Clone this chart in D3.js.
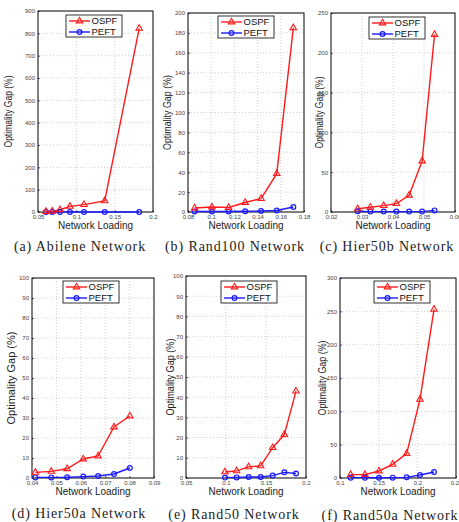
<!DOCTYPE html>
<html>
<head>
<meta charset="utf-8">
<script src="https://cdn.jsdelivr.net/npm/d3@7"></script>
<style>
  html, body { margin: 0; padding: 0; background: #fff; }
  svg { display: block; }
  .tick-lbl { font: 6px "Liberation Sans", Arial, sans-serif; fill: #444; }
  .ax-lbl { font: 10px "Liberation Sans", Arial, sans-serif; fill: #222; }
  .leg { font: 9.5px "Liberation Sans", Arial, sans-serif; fill: #111; }
  .cap { font: 14px "Liberation Serif", "Times New Roman", serif; fill: #222; letter-spacing: 0.9px; }
</style>
</head>
<body>
<svg id="chart" width="459" height="522"></svg>
<script>
// ---- data ----
const abileneLoad = [0.0604, 0.0686, 0.0787, 0.0917, 0.110, 0.137, 0.182];
const abileneOspf = [2, 3, 10, 25, 33, 50, 822];
const abilenePeft = [0.3, 0.3, 0.3, 0.3, 0.3, 0.3, 0.3];

const rand100Load = [0.0857, 0.1006, 0.115, 0.1293, 0.143, 0.1565, 0.1708];
const rand100Ospf = [4, 5, 4.5, 9.5, 13.5, 38.5, 185];
const rand100Peft = [0.5, 0.5, 0.5, 0.7, 1, 1.5, 5];

const hier50bLoad = [0.0286, 0.0327, 0.0370, 0.0411, 0.0452, 0.0494, 0.0534];
const hier50bOspf = [4, 6, 8, 10.5, 21, 64, 223];
const hier50bPeft = [1, 0.5, 0.5, 0.5, 0.5, 0.5, 2];

const hier50aLoad = [0.0414, 0.0479, 0.0544, 0.0610, 0.0671, 0.0736, 0.0801];
const hier50aOspf = [2.8, 3.3, 4.6, 9.5, 11, 25.5, 31];
const hier50aPeft = [0.3, 0.3, 0.4, 0.7, 1, 2, 5];

const rand50Load = [0.0988, 0.1133, 0.1283, 0.1433, 0.1583, 0.1729, 0.1875];
const rand50Ospf = [3, 3.5, 5.5, 6, 15, 21.5, 43];
const rand50Peft = [0.2, 0.3, 0.5, 0.5, 1.2, 2.8, 2.2];

const rand50aLoad = [0.1138, 0.1323, 0.1504, 0.1681, 0.1862, 0.2034, 0.2216];
const rand50aOspf = [5, 5, 10.5, 20.5, 36.5, 118, 253];
const rand50aPeft = [0.5, 0.5, 0.3, 0.5, 1, 4.5, 9];

// tick labels
const abileneXTicks = [0.05, 0.1, 0.15, 0.2];
const rand100XTicks = [0.08, 0.1, 0.12, 0.14, 0.16, 0.18];
const hier50bXTicks = [0.02, 0.03, 0.04, 0.05, 0.06];
const hier50aXTicks = [0.04, 0.05, 0.06, 0.07, 0.08, 0.09];
const rand50XTicks = [0.05, 0.1, 0.15, 0.2];
const rand50aXTicks = [0.1, 0.15, 0.2, 0.25];

const abileneYTicks = d3.range(0, 901, 100);
const rand100YTicks = d3.range(0, 201, 20);
const hier50bYTicks = d3.range(0, 251, 50);
const hier50aYTicks = d3.range(0, 101, 10);
const rand50YTicks = d3.range(0, 101, 10);
const rand50aYTicks = d3.range(0, 301, 50);

const seriesNames = ['OSPF', 'PEFT'];
const captions = ['(a) Abilene Network', '(b) Rand100 Network', '(c) Hier50b Network',
  '(d) Hier50a Network', '(e) Rand50 Network', '(f) Rand50a Network'];

// ---- panel layout (pixels) ----
// ylx = baseline x of rotated y label, yll = its drawn length
const panels = [
  { load: abileneLoad, ospf: abileneOspf, peft: abilenePeft, xt: abileneXTicks, yt: abileneYTicks,
    box: [38, 153, 11, 212], leg: [66, 15], cap: [80, 251], ylx: 11.5, yll: 72 },
  { load: rand100Load, ospf: rand100Ospf, peft: rand100Peft, xt: rand100XTicks, yt: rand100YTicks,
    box: [188, 304, 13, 212], leg: [218, 16], cap: [235, 251], ylx: 171, yll: 75 },
  { load: hier50bLoad, ospf: hier50bOspf, peft: hier50bPeft, xt: hier50bXTicks, yt: hier50bYTicks,
    box: [331, 455, 13, 212], leg: [369, 17], cap: [387, 251], ylx: 322.5, yll: 72 },
  { load: hier50aLoad, ospf: hier50aOspf, peft: hier50aPeft, xt: hier50aXTicks, yt: hier50aYTicks,
    box: [32, 154, 278, 478], leg: [63, 281], cap: [79, 518], ylx: 15, yll: 93 },
  { load: rand50Load, ospf: rand50Ospf, peft: rand50Peft, xt: rand50XTicks, yt: rand50YTicks,
    box: [186, 306, 276, 478], leg: [221, 281], cap: [234, 519], ylx: 173.5, yll: 77 },
  { load: rand50aLoad, ospf: rand50aOspf, peft: rand50aPeft, xt: rand50aXTicks, yt: rand50aYTicks,
    box: [340, 456, 278, 478], leg: [374, 281], cap: [390, 520], ylx: 326, yll: 75 }
];

const RED = '#ff1a1a', BLUE = '#1a1aff';
const svg = d3.select('#chart');
const fmt = v => String(+v.toFixed(2));
const tri = d3.symbol().type(d3.symbolTriangle).size(18);

panels.forEach((p, i) => {
  const [x0, x1, y0, y1] = p.box;
  const x = d3.scaleLinear().domain(d3.extent(p.xt)).range([x0, x1]);
  const y = d3.scaleLinear().domain(d3.extent(p.yt)).range([y1, y0]);
  const g = svg.append('g');

  // dotted grid
  g.selectAll('line.gx').data(p.xt.slice(1, -1)).join('line')
    .attr('x1', d => x(d)).attr('x2', d => x(d)).attr('y1', y0).attr('y2', y1)
    .attr('stroke', '#bbb').attr('stroke-width', 0.7).attr('stroke-dasharray', '1,2');
  g.selectAll('line.gy').data(p.yt.slice(1, -1)).join('line')
    .attr('x1', x0).attr('x2', x1).attr('y1', d => y(d)).attr('y2', d => y(d))
    .attr('stroke', '#bbb').attr('stroke-width', 0.7).attr('stroke-dasharray', '1,2');

  // axes (ticks inside, like matlab)
  const ax = g.append('g').attr('transform', `translate(0,${y1})`)
    .call(d3.axisBottom(x).tickValues(p.xt).tickFormat(fmt).tickSize(-2).tickPadding(3));
  const ay = g.append('g').attr('transform', `translate(${x0},0)`)
    .call(d3.axisLeft(y).tickValues(p.yt).tickSize(-2).tickPadding(3));
  [ax, ay].forEach(a => {
    a.select('.domain').remove();
    a.selectAll('line').attr('stroke', '#000').attr('stroke-width', 0.6);
    a.selectAll('text').attr('class', 'tick-lbl').attr('fill', null);
  });

  g.append('rect').attr('x', x0).attr('y', y0).attr('width', x1 - x0).attr('height', y1 - y0)
    .attr('fill', 'none').attr('stroke', '#000').attr('stroke-width', 1);

  // series
  const line = d3.line().x(d => x(d[0])).y(d => y(d[1]));
  const ospf = p.load.map((v, k) => [v, p.ospf[k]]);
  const peft = p.load.map((v, k) => [v, p.peft[k]]);
  g.append('path').attr('d', line(peft)).attr('fill', 'none').attr('stroke', BLUE).attr('stroke-width', 1.4);
  g.append('path').attr('d', line(ospf)).attr('fill', 'none').attr('stroke', RED).attr('stroke-width', 1.4);
  g.selectAll('circle.pm').data(peft).join('circle')
    .attr('cx', d => x(d[0])).attr('cy', d => y(d[1])).attr('r', 2.4)
    .attr('fill', 'none').attr('stroke', BLUE).attr('stroke-width', 1.2);
  g.selectAll('path.om').data(ospf).join('path')
    .attr('d', tri).attr('transform', d => `translate(${x(d[0])},${y(d[1])})`)
    .attr('fill', 'none').attr('stroke', RED).attr('stroke-width', 1.1);

  // legend
  const [lx, ly] = p.leg;
  const lg = g.append('g').attr('transform', `translate(${lx},${ly})`);
  lg.append('rect').attr('width', 56).attr('height', 22).attr('fill', '#fff')
    .attr('stroke', '#000').attr('stroke-width', 0.8);
  seriesNames.forEach((name, k) => {
    const cy = 6 + k * 11;
    const c = k === 0 ? RED : BLUE;
    lg.append('line').attr('x1', 3).attr('x2', 24).attr('y1', cy).attr('y2', cy)
      .attr('stroke', c).attr('stroke-width', 1.4);
    if (k === 0) {
      lg.append('path').attr('d', tri).attr('transform', `translate(13.5,${cy})`)
        .attr('fill', 'none').attr('stroke', c).attr('stroke-width', 1.1);
    } else {
      lg.append('circle').attr('cx', 13.5).attr('cy', cy).attr('r', 2.4)
        .attr('fill', 'none').attr('stroke', c).attr('stroke-width', 1.2);
    }
    lg.append('text').attr('class', 'leg').attr('x', 25.5).attr('y', cy + 3.4).text(name);
  });

  // labels
  g.append('text').attr('class', 'ax-lbl').attr('text-anchor', 'middle')
    .attr('x', (x0 + x1) / 2).attr('y', y1 + 17).text('Network Loading');
  g.append('text').attr('class', 'ax-lbl').attr('text-anchor', 'middle')
    .attr('textLength', p.yll).attr('lengthAdjust', 'spacingAndGlyphs')
    .attr('transform', `translate(${p.ylx},${(y0 + y1) / 2}) rotate(-90)`)
    .text('Optimality Gap (%)');
  g.append('text').attr('class', 'cap').attr('text-anchor', 'middle')
    .attr('x', p.cap[0]).attr('y', p.cap[1]).text(captions[i]);
});
</script>
</body>
</html>
